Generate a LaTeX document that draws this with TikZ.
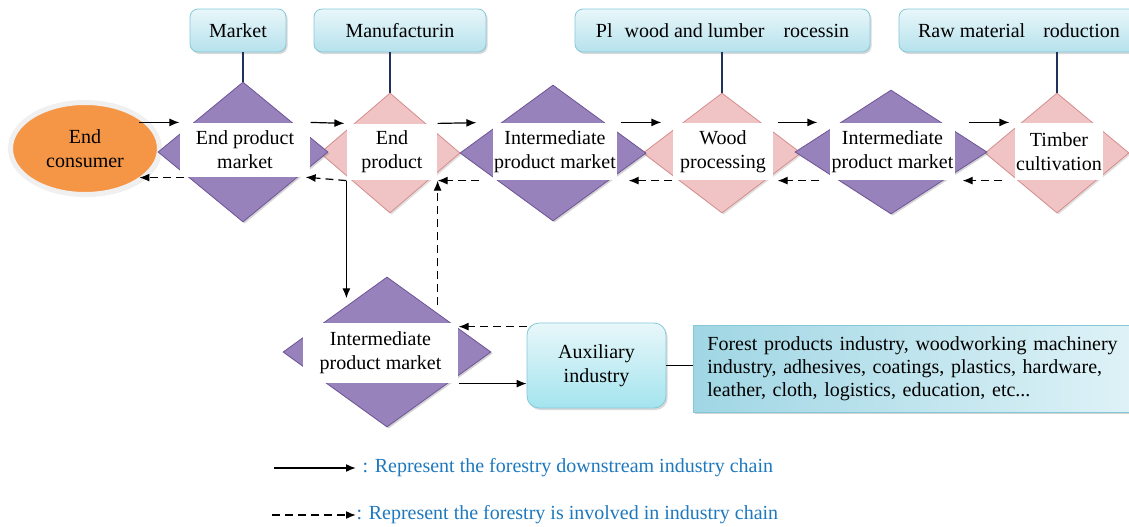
\documentclass[tikz,border=0pt]{standalone}
\usepackage{fontspec}
\setmainfont{Liberation Serif}
\usetikzlibrary{shapes.geometric,shadows,arrows.meta}

\definecolor{mktpurple}{RGB}{152,130,188}
\definecolor{mktline}{RGB}{110,84,150}
\definecolor{prodpink}{RGB}{240,196,196}
\definecolor{prodline}{RGB}{214,140,140}
\definecolor{boxtop}{RGB}{232,247,250}
\definecolor{boxbot}{RGB}{182,225,236}
\definecolor{boxline}{RGB}{132,200,216}
\definecolor{listdark}{RGB}{160,214,228}
\definecolor{listlight}{RGB}{222,242,247}
\definecolor{consumerorange}{RGB}{245,150,70}
\definecolor{stemblue}{RGB}{30,50,90}
\definecolor{legendblue}{RGB}{30,120,190}

\begin{document}
\begin{tikzpicture}[
x=0.5pt, y=-0.5pt, >={Latex[length=5pt, width=4pt]},
font=\fontsize{10}{12}\selectfont,
every path/.style={line width=0.6pt},
dashed/.style={dash pattern=on 4pt off 2.5pt},
mktnode/.style={diamond, draw=mktline, fill=mktpurple, inner sep=0pt, line width=0.4pt,
  drop shadow={opacity=0.35, shadow xshift=0.8pt, shadow yshift=-0.8pt}},
prodnode/.style={diamond, draw=prodline, fill=prodpink, inner sep=0pt, line width=0.4pt,
  drop shadow={opacity=0.25, shadow xshift=0.8pt, shadow yshift=-0.8pt}},
labelnode/.style={rectangle, fill=white, inner sep=0pt, align=center},
stagenode/.style={rectangle, rounded corners=4pt, draw=boxline, top color=boxtop, bottom color=boxbot,
  minimum height=21.5pt, inner sep=0pt, line width=0.4pt,
  drop shadow={opacity=0.3, shadow xshift=0.8pt, shadow yshift=-1pt}},
consumer/.style={ellipse, fill=consumerorange, draw=gray!12, line width=2.5pt, align=center,
  minimum width=74.5pt, minimum height=46pt,
  drop shadow={opacity=0.3, shadow xshift=1pt, shadow yshift=-1pt}},
auxnode/.style={rectangle, rounded corners=6pt, draw=boxline, top color=boxtop, bottom color=boxbot!90!cyan,
  minimum width=69.5pt, minimum height=42.5pt, align=center, line width=0.4pt,
  drop shadow={opacity=0.3, shadow xshift=0.8pt, shadow yshift=-1pt}},
listnode/.style={rectangle, draw=boxline, left color=listdark, right color=listlight, align=left,
  text width=205pt, inner xsep=7pt, minimum height=43.5pt, font=\fontsize{10}{11.5}\selectfont,
  line width=0.4pt, drop shadow={opacity=0.35, shadow xshift=0.8pt, shadow yshift=-1pt}},
legendtxt/.style={text=legendblue, inner sep=0pt, anchor=west},
stemline/.style={draw=stemblue, line width=0.6pt},
]
\useasboundingbox (0,0) rectangle (1129,526);

%Nodes
\node[stagenode, minimum width=48pt]    (s1) at (238,30.5)  {Market};
\node[stagenode, minimum width=86pt]    (s2) at (400,30.5)  {Manufacturin};
\node[stagenode, minimum width=147.5pt] (s3) at (722.5,30.5) {Pl\hspace{6pt}wood and lumber\hspace{9.5pt}rocessin};
\node[stagenode, minimum width=120pt]   (s4) at (1019,30.5) {Raw material\hspace{9pt}roduction};

\node[consumer] (e1) at (85,148.5) {End\\consumer};

\node[prodnode, minimum width=70pt, minimum height=60pt] (d2) at (390,153) {};
\node[prodnode, minimum width=79pt, minimum height=60pt] (d4) at (722,153) {};
\node[prodnode, minimum width=72pt, minimum height=60pt] (d6) at (1057,153) {};
\node[mktnode, minimum width=85pt, minimum height=70pt]  (d1) at (243,152) {};
\node[mktnode, minimum width=93pt, minimum height=68pt]  (d3) at (553,153) {};
\node[mktnode, minimum width=96pt, minimum height=62pt]  (d5) at (891,152) {};
\node[mktnode, minimum width=104pt, minimum height=75pt] (d7) at (387,352) {};

\node[labelnode, minimum width=65pt, minimum height=27pt]   (t1) at (245,150)   {End product\\market};
\node[labelnode, minimum width=45pt, minimum height=28pt]   (t2) at (392,152)   {End\\product};
\node[labelnode, minimum width=62pt, minimum height=28.5pt] (t3) at (555,151.5) {Intermediate\\product market};
\node[labelnode, minimum width=50pt, minimum height=28.5pt] (t4) at (723,151.5) {Wood\\processing};
\node[labelnode, minimum width=62.5pt, minimum height=28.5pt] (t5) at (892.5,151.5) {Intermediate\\product market};
\node[labelnode, minimum width=44pt, minimum height=28.5pt] (t6) at (1059,151.5) {Timber\\cultivation};
\node[labelnode, minimum width=77.5pt, minimum height=30pt] (t7) at (380.5,353) {Intermediate\\product market};

\node[auxnode] (aux) at (596.5,365.5) {Auxiliary\\industry};
\node[listnode, anchor=west] (list) at (693,368.5) {%
\makebox[205pt][s]{Forest products industry, woodworking machinery}\\
\makebox[205pt][s]{industry, adhesives, coatings, plastics, hardware,}\\
leather, cloth, logistics, education, etc...};

\node[legendtxt] (l1) at (362,468) {: Represent the forestry downstream industry chain};
\node[legendtxt] (l2) at (356,515) {: Represent the forestry is involved in industry chain};
\coordinate (l1s) at (274,468);
\coordinate (l2s) at (272,515);

%Lines
\draw[stemline] (s1.south -| d1.north) -- (d1.north);
\draw[stemline] (s2.south -| d2.north) -- (d2.north);
\draw[stemline] (s3.south -| d4.north) -- (d4.north);
\draw[stemline] (s4.south -| d6.north) -- (d6.north);

\draw[->] (t1.north west -| e1.north east) -- (t1.north west);
\draw[->, shorten >=1pt] (t1.north east) -- (t2.north west);
\draw[->, shorten >=8pt] (t2.north east) -- (t3.north west);
\draw[->, shorten <=1.5pt, shorten >=5.5pt] (t3.north east) -- (t4.north west);
\draw[->, shorten <=2pt, shorten >=6pt] (t4.north east) -- (t5.north west);
\draw[->, shorten <=6.5pt, shorten >=2.5pt] (t5.north east) -- (t6.north west);

\draw[dashed, ->, shorten <=-2.5pt] (t1.south west) -- (t1.south west -| e1.south east);
\draw[dashed, ->, shorten >=-2.5pt] (t2.south west) -- (t1.south east);
\draw[dashed, ->, shorten <=6.5pt] (t3.south west) -- (t2.south east);
\draw[dashed, ->, shorten >=5.5pt] (t4.south west) -- (t3.south east);
\draw[dashed, ->, shorten <=5pt, shorten >=2pt] (t5.south west) -- (t4.south east);
\draw[dashed, ->, shorten <=6pt, shorten >=3.5pt] (t6.south west) -- (t5.south east);

\draw[->, shorten >=8pt] (t2.south west) -- (t2.south west |- d7.north west);
\draw[dashed, ->, shorten <=4.5pt] (t2.south east |- d7.north east) -- (t2.south east);
\draw[dashed, ->] ([yshift=-2pt]aux.north west) -- ([yshift=-2pt]aux.north west -| t7.east);
\draw[->] (t7.south east) -- (t7.south east -| aux.west);
\draw (aux.east) -- (aux.east -| list.west);

\draw[->, line width=0.8pt, shorten >=3pt] (l1s) -- (l1.west);
\draw[dashed, line width=0.8pt, ->] (l2s) -- (l2.west);
\end{tikzpicture}
\end{document}
